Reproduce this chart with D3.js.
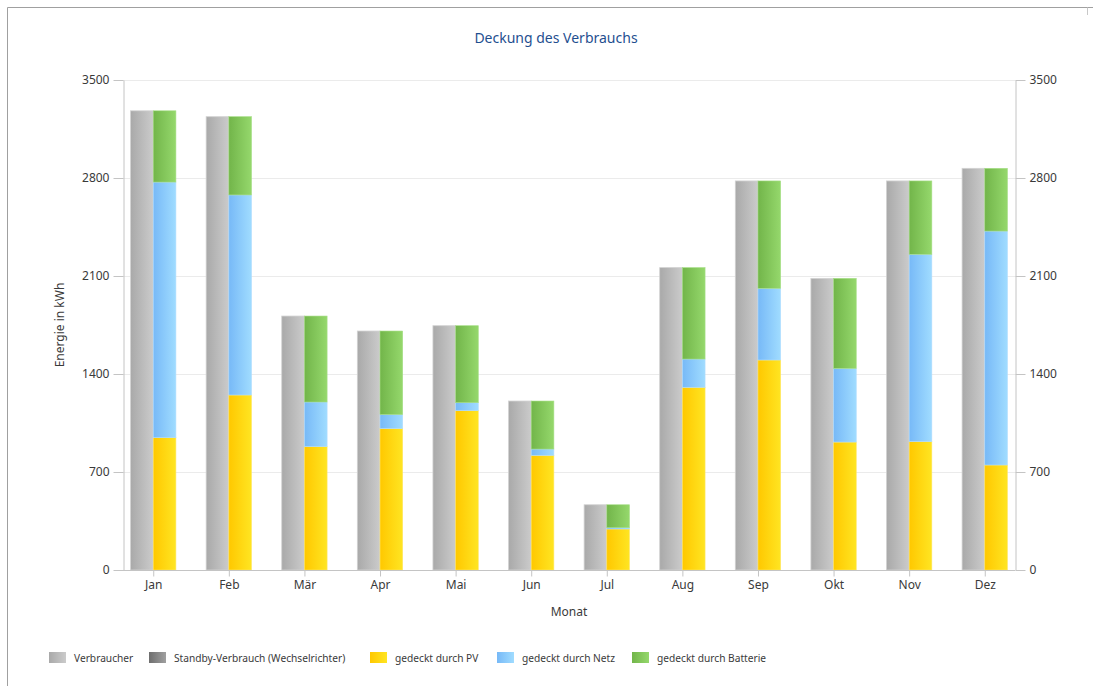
<!DOCTYPE html>
<html>
<head>
<meta charset="utf-8">
<script src="https://cdn.jsdelivr.net/npm/d3@7/dist/d3.min.js"></script>
<style>
  html, body { margin: 0; padding: 0; background: #fff; }
  svg text { font-family: "Noto Sans", "DejaVu Sans", sans-serif; }
</style>
</head>
<body>
<svg id="chart" width="1093" height="686"></svg>
<script>
// Monthly consumption and how it was covered (kWh)
const months = ["Jan", "Feb", "Mär", "Apr", "Mai", "Jun", "Jul", "Aug", "Sep", "Okt", "Nov", "Dez"];
const verbraucher = [3280, 3238, 1814, 1707, 1745, 1207, 466, 2160, 2779, 2083, 2779, 2869];
const standby     = [0, 0, 0, 0, 0, 0, 0, 0, 0, 0, 0, 0];
const pv          = [945, 1250, 881, 1010, 1138, 819, 293, 1305, 1500, 914, 917, 750];
const netz        = [1826, 1429, 319, 100, 57, 45, 9, 202, 512, 526, 1338, 1671];
const batterie    = [509, 559, 614, 597, 550, 343, 164, 653, 767, 643, 524, 448];
const yTicks      = [0, 700, 1400, 2100, 2800, 3500];

const legendItems = [
  { name: "Verbraucher", grad: "g-grau" },
  { name: "Standby-Verbrauch (Wechselrichter)", grad: "g-dunkel" },
  { name: "gedeckt durch PV", grad: "g-pv" },
  { name: "gedeckt durch Netz", grad: "g-netz" },
  { name: "gedeckt durch Batterie", grad: "g-batt" }
];

const svg = d3.select("#chart");
const plot = { left: 123, right: 1015, top: 80, bottom: 570 };

// Horizontal gradients for the bar fills
const defs = svg.append("defs");
const gradients = [
  ["g-grau", "#a9a9a9", "#cbcbcb"],
  ["g-dunkel", "#6e6e6e", "#a0a0a0"],
  ["g-pv", "#ffc800", "#ffe522"],
  ["g-netz", "#77b9f7", "#a0dcff"],
  ["g-batt", "#72b54a", "#95d86c"]
];
gradients.forEach(([id, c0, c1]) => {
  const g = defs.append("linearGradient").attr("id", id)
    .attr("x1", "0%").attr("x2", "100%").attr("y1", "0%").attr("y2", "0%");
  g.append("stop").attr("offset", "0%").attr("stop-color", c0);
  g.append("stop").attr("offset", "100%").attr("stop-color", c1);
});

// Panel frame
svg.append("path")
  .attr("d", "M7.5,686 V7.5 H1093")
  .attr("fill", "none").attr("stroke", "#a0a0a0").attr("stroke-width", 1);
svg.append("path")
  .attr("d", "M1087.5,7.5 V15")
  .attr("fill", "none").attr("stroke", "#c8c8c8").attr("stroke-width", 1);

const x = d3.scalePoint().domain(months).range([plot.left, plot.right]).padding(0.4);
const y = d3.scaleLinear().domain([0, 3500]).range([plot.bottom, plot.top]);
const barW = x.step() * 0.3;

// Grid lines
svg.append("g").selectAll("line").data(yTicks.filter(d => d > 0)).join("line")
  .attr("x1", plot.left).attr("x2", plot.right)
  .attr("y1", d => Math.round(y(d)) + 0.5).attr("y2", d => Math.round(y(d)) + 0.5)
  .attr("stroke", "#ebebeb");

// Consumption column (left of each month) with stacked standby share
const consStack = d3.stack().keys(["verbraucher", "standby"])(
  months.map((m, i) => ({ month: m, verbraucher: verbraucher[i], standby: standby[i] })));
const consFill = { verbraucher: "url(#g-grau)", standby: "url(#g-dunkel)" };
const consStroke = { verbraucher: "#d2d2d2", standby: "#9a9a9a" };
consStack.forEach(layer => {
  svg.append("g").selectAll("rect").data(layer).join("rect")
    .attr("x", d => x(d.data.month) - barW)
    .attr("width", barW)
    .attr("y", d => y(d[1]))
    .attr("height", d => y(d[0]) - y(d[1]))
    .attr("fill", consFill[layer.key])
    .attr("stroke", d => (d[1] - d[0]) > 0 ? consStroke[layer.key] : "none")
    .attr("stroke-width", 0.8);
});

// Coverage column (right of each month): PV, grid, battery
const covStack = d3.stack().keys(["pv", "netz", "batterie"])(
  months.map((m, i) => ({ month: m, pv: pv[i], netz: netz[i], batterie: batterie[i] })));
const covFill = { pv: "url(#g-pv)", netz: "url(#g-netz)", batterie: "url(#g-batt)" };
const covStroke = { pv: "#ffe666", netz: "#b0dcff", batterie: "#a6de86" };
covStack.forEach(layer => {
  svg.append("g").selectAll("rect").data(layer).join("rect")
    .attr("x", d => x(d.data.month))
    .attr("width", barW)
    .attr("y", d => y(d[1]))
    .attr("height", d => y(d[0]) - y(d[1]))
    .attr("fill", covFill[layer.key])
    .attr("stroke", covStroke[layer.key])
    .attr("stroke-width", 0.6);
});

// Axes
const axisColor = "#c4c4c4";
const textColor = "#3a3a3a";
function styleAxis(g) {
  g.select(".domain").attr("stroke", axisColor);
  g.selectAll(".tick line").attr("stroke", axisColor);
  g.selectAll(".tick text").attr("fill", textColor).style("font-size", "12px")
    .style("font-family", "'Noto Sans', 'DejaVu Sans', sans-serif");
}
svg.append("g").attr("transform", `translate(${plot.left + 0.5},0)`)
  .call(d3.axisLeft(y).tickValues(yTicks).tickSize(10).tickSizeOuter(0).tickPadding(4).tickFormat(d3.format("d")))
  .call(styleAxis);
svg.append("g").attr("transform", `translate(${plot.right + 0.5},0)`)
  .call(d3.axisRight(y).tickValues(yTicks).tickSize(10).tickSizeOuter(0).tickPadding(4).tickFormat(d3.format("d")))
  .call(styleAxis);
svg.append("g").attr("transform", `translate(0,${plot.bottom + 0.5})`)
  .call(d3.axisBottom(x).tickSize(6).tickSizeOuter(0).tickPadding(4))
  .call(styleAxis)
  .call(g => g.select(".domain").attr("d", `M${plot.left},0H${plot.right}`));

// Titles
svg.append("text").attr("x", 556).attr("y", 43).attr("text-anchor", "middle")
  .attr("fill", "#1f4f8f").style("font-size", "14px").text("Deckung des Verbrauchs");
svg.append("text").attr("x", 569).attr("y", 616).attr("text-anchor", "middle")
  .attr("fill", textColor).style("font-size", "12px").text("Monat");
svg.append("text").attr("transform", "translate(64,325) rotate(-90)").attr("text-anchor", "middle")
  .attr("fill", textColor).style("font-size", "12px").text("Energie in kWh");

// Legend
const legendX = [49, 149, 370, 497, 632];
const legend = svg.append("g").selectAll("g").data(legendItems).join("g")
  .attr("transform", (d, i) => `translate(${legendX[i]},652)`);
legend.append("rect").attr("width", 17).attr("height", 11)
  .attr("fill", d => `url(#${d.grad})`);
legend.append("text").attr("x", 25).attr("y", 9.5)
  .attr("fill", textColor).style("font-size", "10.2px").text(d => d.name);
</script>
</body>
</html>
